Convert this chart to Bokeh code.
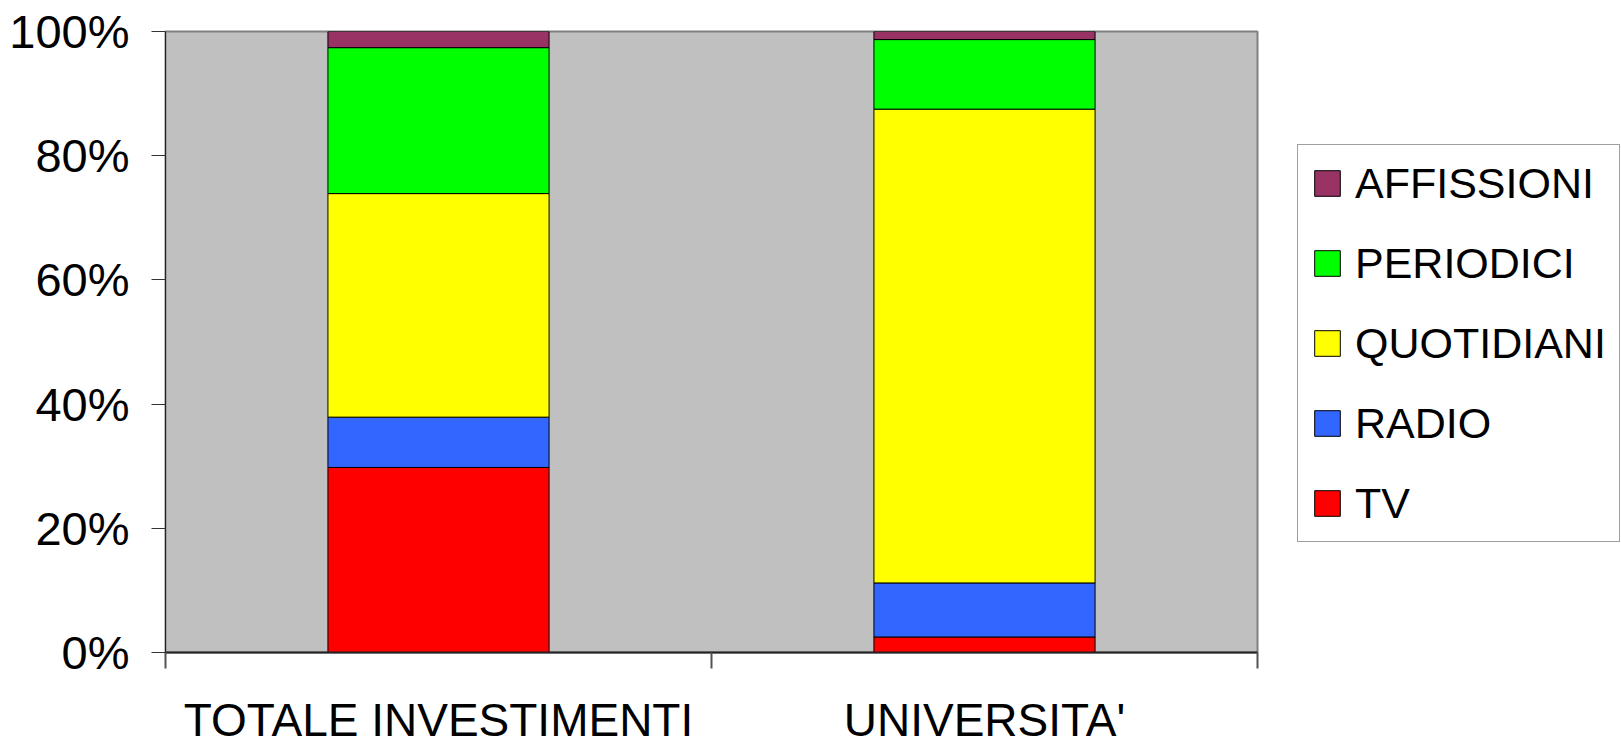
from bokeh.plotting import figure
from bokeh.models import (ColumnDataSource, FixedTicker, PrintfTickFormatter,
                          Legend, LegendItem, Range1d)
from bokeh.embed import file_html
from bokeh.resources import INLINE

# ---- data ----
categories = ["TOTALE INVESTIMENTI", "UNIVERSITA'"]
series = ["TV", "RADIO", "QUOTIDIANI", "PERIODICI", "AFFISSIONI"]
tv = [29.8, 2.5]
radio = [8.1, 8.7]
quotidiani = [36.0, 76.3]
periodici = [23.5, 11.2]
affissioni = [2.6, 1.3]
colors = ["#ff0000", "#3366ff", "#ffff00", "#00ff00", "#993366"]
y_ticks = [0, 20, 40, 60, 80, 100]

FONT = "Liberation Sans"

xpos = [i + 0.5 for i in range(len(categories))]
source = ColumnDataSource(dict(x=xpos, TV=tv, RADIO=radio, QUOTIDIANI=quotidiani,
                               PERIODICI=periodici, AFFISSIONI=affissioni))

p = figure(frame_width=1092, frame_height=621,
           x_range=Range1d(0, len(categories)), y_range=Range1d(0, 100),
           output_backend="svg", toolbar_location=None,
           min_border_left=165, min_border_right=364,
           min_border_top=31, min_border_bottom=95)

p.background_fill_color = "#c0c0c0"
p.border_fill_color = "white"
p.outline_line_color = "#808080"
p.outline_line_width = 2
p.xgrid.visible = False
p.ygrid.visible = False

renderers = p.vbar_stack(series, x="x", width=0.405, source=source,
                         fill_color=colors, line_color="black", line_width=1)

# y axis
ya = p.yaxis[0]
ya.ticker = FixedTicker(ticks=y_ticks, minor_ticks=[])
ya.formatter = PrintfTickFormatter(format="%d%%")
ya.major_tick_out = 14
ya.major_tick_in = 0
ya.major_tick_line_color = "#333333"
ya.axis_line_color = "#222222"
ya.major_label_standoff = 22
ya.major_label_text_font = FONT
ya.major_label_text_font_size = "47px"
ya.major_label_text_color = "black"

# x axis: labels at category centers, ticks at category boundaries
xa = p.xaxis[0]
xa.ticker = FixedTicker(ticks=xpos, minor_ticks=list(range(len(categories) + 1)))
xa.major_label_overrides = {x: c for x, c in zip(xpos, categories)}
xa.major_tick_out = 0
xa.major_tick_in = 0
xa.minor_tick_out = 16
xa.minor_tick_in = 0
xa.minor_tick_line_color = "#555055"
xa.minor_tick_line_width = 2
xa.axis_line_color = "#222222"
xa.axis_line_width = 2
xa.major_label_standoff = 25
xa.major_label_text_font = FONT
xa.major_label_text_font_size = "46px"
xa.major_label_text_color = "black"

items = [LegendItem(label=s, renderers=[r]) for s, r in zip(series, renderers)][::-1]
legend = Legend(items=items, location=(40, 110),
                label_text_font=FONT, label_text_font_size="43px",
                label_text_color="black",
                glyph_width=32, glyph_height=32, label_standoff=12,
                label_height=50, spacing=30, padding=13, margin=0,
                border_line_color="#404040", border_line_width=1,
                background_fill_color="white", background_fill_alpha=1)
p.add_layout(legend, "right")

open("out.html", "w").write(file_html(p, INLINE))
